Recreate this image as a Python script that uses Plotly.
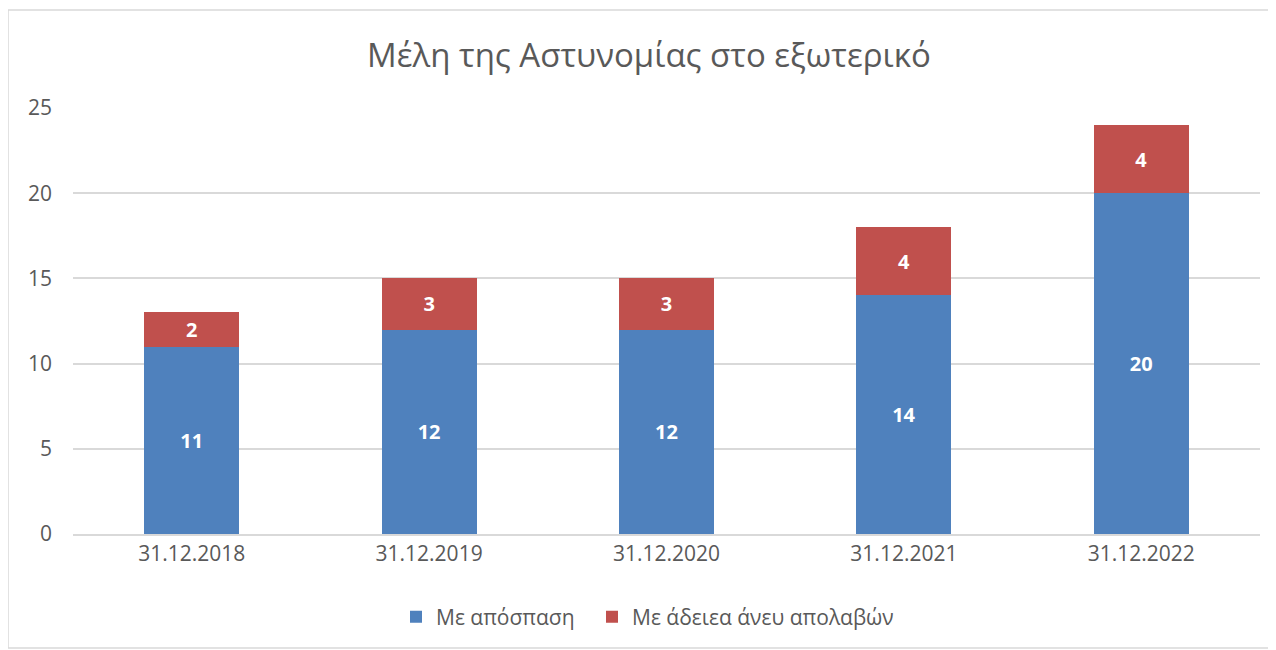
import plotly.graph_objects as go

categories = ["31.12.2018", "31.12.2019", "31.12.2020", "31.12.2021", "31.12.2022"]
secondment = [11, 12, 12, 14, 20]
unpaid_leave = [2, 3, 3, 4, 4]
series_names = ["Με απόσπαση", "Με άδειεα άνευ απολαβών"]
title_text = "Μέλη της Αστυνομίας στο εξωτερικό"

FONT = "Open Sans"
W, H = 1268, 642
L, T = 65, 100
PW, PH = 1187, 426
fig = go.Figure()
for vals, name, col, lg in [(secondment, series_names[0], "#4F81BD", "legend"),
                            (unpaid_leave, series_names[1], "#C0504D", "legend2")]:
    fig.add_trace(go.Bar(x=categories, y=vals, name=name, legend=lg, showlegend=True,
                         marker=dict(color=col, line=dict(width=0)),
                         text=vals, textposition="inside", insidetextanchor="middle",
                         textangle=0,
                         textfont=dict(color="white", size=20, family=FONT, weight="bold")))

leg_common = dict(orientation="h", xanchor="left", y=-83 / PH, yanchor="middle",
                  font=dict(size=21, color="#595959"), bgcolor="rgba(0,0,0,0)")
fig.update_layout(
    showlegend=True,
    barmode="stack", bargap=0.6,
    width=W, height=H,
    margin=dict(l=L, r=W - L - PW, t=T, b=H - T - PH, autoexpand=False),
    paper_bgcolor="white", plot_bgcolor="rgba(0,0,0,0)",
    font=dict(family=FONT, color="#595959", size=21),
    title=dict(text=title_text, x=641 / W, xanchor="center", y=1 - 47 / H, yanchor="middle",
               xref="container", yref="container",
               font=dict(size=33, color="#595959", family=FONT)),
    legend=dict(x=(388 - L) / PW, **leg_common),
    legend2=dict(x=(584 - L) / PW, **leg_common),
    uniformtext=dict(mode=False),
    shapes=[dict(type="rect", xref="paper", yref="paper",
                 x0=(0 - L) / PW, x1=(1262 - L) / PW,
                 y0=-(H - 2 - T - PH) / PH, y1=1 + (T - 2) / PH,
                 line=dict(color="#D9D9D9", width=1.5), layer="above")],
)
fig.update_xaxes(showgrid=False, showline=True, linecolor="#D9D9D9", linewidth=1.5,
                 ticks="", tickfont=dict(size=21, color="#595959"))
fig.update_yaxes(range=[0, 25], dtick=5, showgrid=True, gridcolor="#D9D9D9", gridwidth=1.5,
                 zeroline=False, ticks="", tickfont=dict(size=21, color="#595959"),
                 ticklabelstandoff=20)

fig.write_html("out.html")
